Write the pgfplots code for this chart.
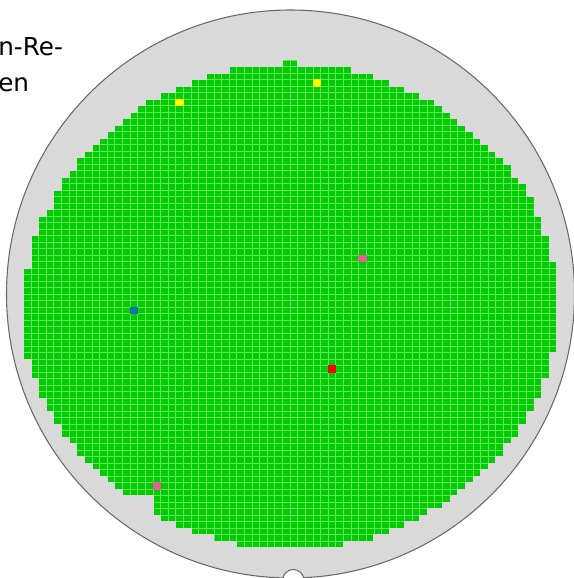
\documentclass[border=0pt]{standalone}
\usepackage{pgfplots}
\usepackage{pgfplotstable}
\pgfplotsset{compat=1.18}
\usepackage{fontspec}
\setmainfont{DejaVu Sans}

\definecolor{waferGray}{RGB}{217,217,217}
\definecolor{edgeGray}{RGB}{105,105,105}
\definecolor{dieGreen}{RGB}{0,204,0}
\definecolor{gridGreen}{RGB}{100,226,100}
\definecolor{binYellow}{RGB}{255,255,0}
\definecolor{binRed}{RGB}{255,0,0}
\definecolor{binPink}{RGB}{228,96,152}
\definecolor{binBlue}{RGB}{24,112,172}

% Die area outline (column edge, row edge). The first four rows are the
% corners of the map frame; the rest trace the stepped edge of the good-die
% region: left side downwards, then the right side back up.
\pgfplotstableread{
x y
70 0
70 75
0 75
0 0
34 0
34 1
27 1
27 2
24 2
24 3
22 3
22 4
20 4
20 5
18 5
18 6
16 6
16 7
15 7
15 8
14 8
14 9
13 9
13 10
12 10
12 11
11 11
11 12
10 12
10 13
9 13
9 14
8 14
8 15
7 15
7 17
6 17
6 18
5 18
5 20
4 20
4 23
3 23
3 24
2 24
2 27
1 27
1 32
0 32
0 46
1 46
1 49
2 49
2 52
3 52
3 54
4 54
4 56
5 56
5 58
6 58
6 59
7 59
7 61
8 61
8 62
9 62
9 63
10 63
10 64
11 64
11 65
12 65
12 66
13 66
13 67
17 67
17 70
18 70
18 71
20 71
20 72
22 72
22 73
25 73
25 74
28 74
28 75
42 75
42 74
46 74
46 73
48 73
48 72
50 72
50 71
52 71
52 70
53 70
53 69
55 69
55 68
56 68
56 67
57 67
57 66
58 66
58 65
59 65
59 64
60 64
60 63
61 63
61 62
62 62
62 61
63 61
63 59
64 59
64 58
65 58
65 56
66 56
66 54
67 54
67 52
68 52
68 49
69 49
69 45
70 45
70 31
69 31
69 27
68 27
68 24
67 24
67 21
66 21
66 19
65 19
65 18
64 18
64 16
63 16
63 15
62 15
62 14
61 14
61 13
60 13
60 12
59 12
59 11
58 11
58 10
57 10
57 9
56 9
56 8
55 8
55 7
54 7
54 6
52 6
52 5
50 5
50 4
48 4
48 3
46 3
46 2
43 2
43 1
36 1
36 0
}\outline

\pgfplotsset{
  die bin/.style={only marks, mark=square*, mark size=2.4375pt,
    color=#1, mark options={xscale=1.1723, solid, draw=#1, fill=#1}},
}

\begin{document}
\begin{tikzpicture}[x=0.75pt,y=-0.75pt]
\useasboundingbox (0,0) rectangle (574,578);
% wafer disc
\fill[waferGray] (290.5,294) circle[radius=284];

\begin{axis}[
  at={(17.475pt,-45.15pt)}, anchor=north west,
  x=5.715pt, y=4.875pt, y dir=reverse,
  xmin=0, xmax=70, ymin=0, ymax=75,
  hide axis, clip=false,
]
% good dies
\addplot[fill=dieGreen, draw=none] table[skip coords between index={0}{4}] \outline;
% failing bins
\addplot[die bin=binYellow] coordinates {(38.5,3.5) (20.5,6.5)};
\addplot[die bin=binRed]    coordinates {(40.5,47.5)};
\addplot[die bin=binPink]   coordinates {(44.5,30.5) (17.5,65.5)};
\addplot[die bin=binBlue]   coordinates {(14.5,38.5)};
% die grid
\pgfplotsinvokeforeach{0,...,70}{\draw[gridGreen, line width=0.45pt] (#1,0) -- (#1,75);}
\pgfplotsinvokeforeach{0,...,75}{\draw[gridGreen, line width=0.45pt] (0,#1) -- (70,#1);}
% edge exclusion ring inside the frame
\addplot[fill=waferGray, draw=waferGray, line width=0.5pt] table \outline;
\end{axis}

% outside of the wafer
\fill[white, even odd rule] (-20,-20) rectangle (620,620) (290.5,294) circle[radius=284];
\draw[edgeGray, line width=0.8pt] (290.5,294) circle[radius=284];
% notch
\filldraw[fill=white, draw=edgeGray, line width=0.8pt] (293.3,580) circle[radius=10.5];

\node[anchor=base west, inner sep=0pt, font=\fontsize{18.5}{22}\selectfont] at (-2,55) {n-Re-};
\node[anchor=base west, inner sep=0pt, font=\fontsize{18.5}{22}\selectfont] at (-2,91) {en};
\end{tikzpicture}
\end{document}
